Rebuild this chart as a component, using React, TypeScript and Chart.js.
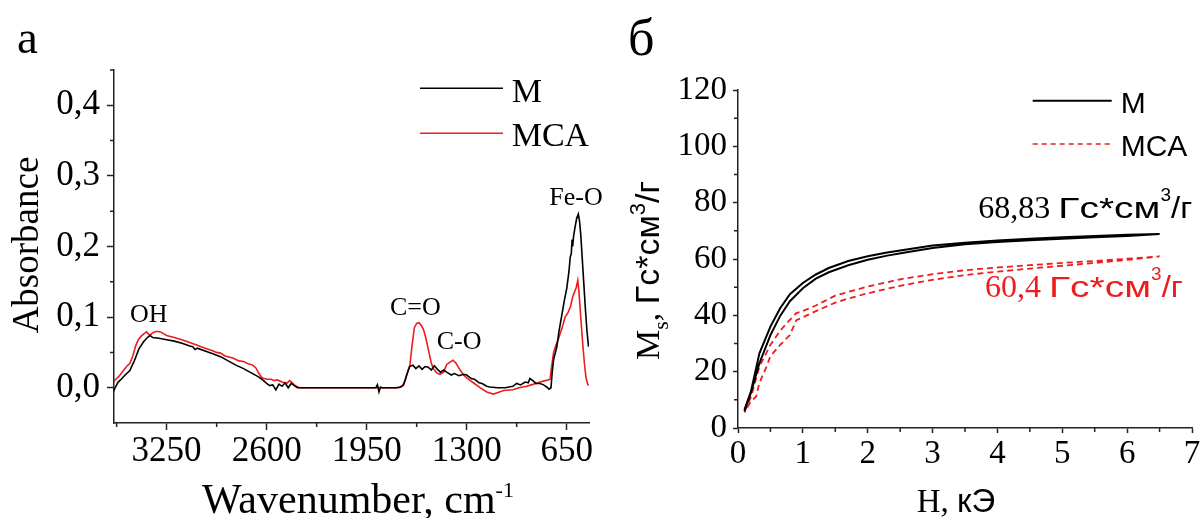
import React, { useEffect, useRef } from 'react';
import { Chart, registerables } from 'chart.js';

Chart.register(...registerables);

const SERIF = '"Liberation Serif", "Times New Roman", serif';
const SANS = '"Liberation Sans", Arial, sans-serif';
const AXIS = '#222';
const RED = '#ee1c1c';

// ---------- Panel a: IR spectra ----------
const wavenumberM = [
  3597, 3580, 3565, 3545, 3520, 3490, 3460, 3430, 3400, 3375, 3358, 3340, 3300, 3250, 3200, 3150,
  3100, 3080, 3065, 3050, 3000, 2950, 2900, 2850, 2800, 2750, 2700, 2650, 2620, 2600, 2580, 2560,
  2540, 2520, 2500, 2480, 2460, 2440, 2420, 2400, 2380, 2100, 1890, 1880, 1870, 1860, 1850, 1760,
  1730, 1710, 1690, 1670, 1650, 1630, 1610, 1590, 1570, 1550, 1530, 1510, 1490, 1470, 1450, 1430,
  1400, 1380, 1350, 1320, 1300, 1270, 1250, 1220, 1200, 1170, 1150, 1100, 1050, 1000, 975, 950,
  920, 900, 889, 870, 850, 823, 800, 780, 765, 752, 745, 735, 714, 700, 680, 664,
  650, 635, 627, 620, 615, 611, 605, 595, 585, 574, 566, 558, 548, 538, 528, 518, 508,
];
const absorbanceM = [
  -0.006, 0.002, 0.008, 0.012, 0.018, 0.024, 0.038, 0.055, 0.065, 0.071, 0.074, 0.071, 0.07, 0.068, 0.066, 0.063,
  0.059, 0.058, 0.054, 0.056, 0.052, 0.048, 0.044, 0.038, 0.032, 0.027, 0.021, 0.015, 0.01, 0.006, 0.003, 0.004,
  -0.003, 0.005, 0.002, 0.007, 0.0, 0.006, 0.003, 0.0, 0.0, 0.0, 0.0, 0.004, -0.006, 0.001, 0.0, 0.0,
  0.001, 0.004, 0.018, 0.03, 0.032, 0.027, 0.031, 0.026, 0.03, 0.029, 0.025, 0.031, 0.026, 0.022, 0.025, 0.022,
  0.018, 0.02, 0.017, 0.019, 0.018, 0.013, 0.012, 0.007, 0.006, 0.002, 0.001, 0.0, 0.0, 0.002, 0.006, 0.004,
  0.008, 0.007, 0.013, 0.01, 0.006, 0.006, 0.004, 0.001, -0.002, 0.0, 0.02, 0.04, 0.058, 0.08, 0.105, 0.125,
  0.14, 0.165, 0.185, 0.19, 0.21, 0.2, 0.215, 0.228, 0.24, 0.246, 0.235, 0.215, 0.18, 0.145, 0.11, 0.08, 0.058,
];
const wavenumberMCA = [
  3597, 3580, 3560, 3540, 3510, 3488, 3470, 3450, 3434, 3415, 3400, 3380, 3360, 3340, 3315, 3290,
  3250, 3200, 3150, 3100, 3050, 3000, 2960, 2925, 2900, 2870, 2820, 2780, 2750, 2720, 2690, 2670,
  2650, 2630, 2600, 2570, 2550, 2530, 2500, 2470, 2450, 2420, 2400, 2380, 2100, 1740, 1720, 1700,
  1680, 1669, 1655, 1640, 1625, 1610, 1595, 1580, 1565, 1545, 1530, 1517, 1495, 1473, 1450, 1430,
  1410, 1390, 1370, 1343, 1320, 1300, 1257, 1213, 1170, 1127, 1100, 1060, 1000, 960, 910, 880,
  850, 823, 790, 770, 758, 748, 735, 720, 702, 680, 660, 640, 625, 612, 600, 588,
  578, 570, 562, 552, 543, 535, 525, 515, 508,
];
const absorbanceMCA = [
  0.008, 0.012, 0.016, 0.022, 0.03, 0.035, 0.045, 0.06, 0.068, 0.073, 0.076, 0.079, 0.074, 0.078, 0.08, 0.079,
  0.074, 0.071, 0.068, 0.064, 0.06, 0.056, 0.053, 0.05, 0.049, 0.045, 0.042, 0.038, 0.037, 0.034, 0.032, 0.028,
  0.02, 0.014, 0.012, 0.012, 0.01, 0.011, 0.008, 0.006, 0.01, 0.004, 0.001, 0.0, 0.0, 0.0, 0.002, 0.01,
  0.025, 0.032, 0.06, 0.085, 0.091, 0.092, 0.088, 0.082, 0.07, 0.05, 0.035, 0.027, 0.021, 0.019, 0.022, 0.033,
  0.036, 0.039, 0.035, 0.025, 0.018, 0.014, 0.007, 0.0, -0.006, -0.009, -0.007, -0.004, -0.003, 0.0, 0.002, 0.004,
  0.006, 0.008, 0.01, 0.011, 0.012, 0.03, 0.05, 0.06, 0.07, 0.085, 0.1, 0.107, 0.115, 0.128, 0.135, 0.142,
  0.152, 0.135, 0.11, 0.08, 0.055, 0.035, 0.015, 0.006, 0.003,
];
const irXTicks = [650, 1300, 1950, 2600, 3250];
const irXMinor = [3575, 2925, 2275, 1625, 975];
const irYTicks = [0, 0.1, 0.2, 0.3, 0.4];
const irYMinor = [0.05, 0.15, 0.25, 0.35, 0.45];

// ---------- Panel б: magnetization ----------
const fieldM = [
  0.1, 0.2, 0.33, 0.5, 0.65, 0.8, 1.0, 1.2, 1.4, 1.7, 2.0, 2.3, 2.6, 3.0, 3.5, 4.0, 4.5, 5.0, 5.5, 6.0, 6.5,
  6.0, 5.5, 5.0, 4.5, 4.0, 3.5, 3.0, 2.6, 2.3, 2.0, 1.7, 1.4, 1.2, 1.0, 0.8, 0.65, 0.5, 0.33, 0.2, 0.1,
];
const magnetM = [
  6.5, 13, 26.5, 36, 42.5, 47.5, 51.5, 54.5, 56.8, 59.3, 61.0, 62.3, 63.4, 64.8, 65.8, 66.6, 67.2, 67.7, 68.2, 68.6, 68.9,
  68.2, 67.7, 67.2, 66.7, 66.0, 65.2, 63.9, 62.4, 61.2, 59.7, 57.8, 55.3, 53.0, 49.6, 45.0, 39.8, 33.0, 23.0, 12.5, 6.0,
];
const fieldMCA = [
  0.1, 0.2, 0.33, 0.5, 0.65, 0.75, 0.9, 1.0, 1.2, 1.5, 1.7, 2.0, 2.5, 3.0, 3.5, 4.0, 4.5, 5.0, 5.5, 6.0, 6.5,
  6.0, 5.5, 5.0, 4.5, 4.0, 3.5, 3.0, 2.5, 2.0, 1.7, 1.5, 1.2, 1.0, 0.9, 0.8, 0.65, 0.5, 0.44, 0.33, 0.28, 0.2, 0.1,
];
const magnetMCA = [
  5.9, 11, 21.8, 29.5, 34.5, 37.2, 40.8, 41.5, 43.5, 47.0, 48.3, 50.2, 52.8, 54.6, 56.0, 57.0, 57.8, 58.6, 59.3, 60.1, 60.9,
  59.7, 58.6, 57.6, 56.6, 55.5, 54.3, 52.6, 50.5, 47.8, 46.0, 44.5, 41.5, 39.3, 38.3, 33.0, 29.5, 25.5, 21.8, 16.0, 11.2, 9.5, 5.5,
];
const magXTicks = [0, 1, 2, 3, 4, 5, 6, 7];
const magXMinor = [0.5, 1.5, 2.5, 3.5, 4.5, 5.5, 6.5];
const magYTicks = [0, 20, 40, 60, 80, 100, 120];
const magYMinor = [10, 30, 50, 70, 90, 110];

// ---------- helpers ----------
const f = (size: number, fam: string) => `${size}px ${fam}`;
type Seg = { t: string; f: string; dy?: number; sx?: number };

function drawSegs(ctx: CanvasRenderingContext2D, segs: Seg[], x: number, y: number, color: string) {
  ctx.fillStyle = color;
  ctx.textAlign = 'left';
  ctx.textBaseline = 'alphabetic';
  let cx = x;
  for (const s of segs) {
    const sx = s.sx || 1;
    ctx.font = s.f;
    ctx.save();
    ctx.translate(cx, y + (s.dy || 0));
    ctx.scale(sx, 1);
    ctx.fillText(s.t, 0, 0);
    ctx.restore();
    cx += ctx.measureText(s.t).width * sx;
  }
  return cx - x;
}
function segsWidth(ctx: CanvasRenderingContext2D, segs: Seg[]) {
  let w = 0;
  for (const s of segs) {
    ctx.font = s.f;
    w += ctx.measureText(s.t).width * (s.sx || 1);
  }
  return w;
}
function minorTicks(ctx: any, chart: any, xs: number[], ys: number[], len: number) {
  const { chartArea, scales } = chart;
  ctx.strokeStyle = AXIS;
  ctx.lineWidth = 1.5;
  ctx.beginPath();
  xs.forEach((v) => {
    const p = scales.x.getPixelForValue(v);
    ctx.moveTo(p, chartArea.bottom);
    ctx.lineTo(p, chartArea.bottom + len);
  });
  ys.forEach((v) => {
    const p = scales.y.getPixelForValue(v);
    ctx.moveTo(chartArea.left - len, p);
    ctx.lineTo(chartArea.left, p);
  });
  ctx.stroke();
}
function legendLine(ctx: any, x1: number, x2: number, y: number, color: string, width: number, dash: number[]) {
  ctx.save();
  ctx.strokeStyle = color;
  ctx.lineWidth = width;
  ctx.setLineDash(dash);
  ctx.beginPath();
  ctx.moveTo(x1, y);
  ctx.lineTo(x2, y);
  ctx.stroke();
  ctx.restore();
}

const irOverlay = {
  id: 'irOverlay',
  afterDraw(chart: any) {
    const ctx = chart.ctx as CanvasRenderingContext2D;
    ctx.save();
    minorTicks(ctx, chart, irXMinor, irYMinor, 4);
    drawSegs(ctx, [{ t: 'a', f: f(47, SERIF) }], 17, 53, '#000');
    // x title
    const xt: Seg[] = [{ t: 'Wavenumber, cm', f: f(42, SERIF) }, { t: '-1', f: f(22, SERIF), dy: -16 }];
    const w = segsWidth(ctx, xt);
    drawSegs(ctx, xt, 358 - w / 2, 513, '#000');
    // y title
    ctx.save();
    ctx.translate(38, 245);
    ctx.rotate(-Math.PI / 2);
    ctx.font = f(37, SERIF);
    ctx.fillStyle = '#000';
    ctx.textAlign = 'center';
    ctx.textBaseline = 'alphabetic';
    ctx.fillText('Absorbance', 0, 0);
    ctx.restore();
    // legend
    legendLine(ctx, 420, 503, 88.3, '#000', 1.6, []);
    drawSegs(ctx, [{ t: 'M', f: f(34, SERIF) }], 511.7, 101.7, '#000');
    legendLine(ctx, 420, 503, 133.3, RED, 1.6, []);
    drawSegs(ctx, [{ t: 'MCA', f: f(34, SERIF) }], 511.7, 146, '#000');
    // band labels
    const lf = f(26, SERIF);
    drawSegs(ctx, [{ t: 'OH', f: lf }], 130, 321.7, '#000');
    drawSegs(ctx, [{ t: 'C=O', f: lf }], 390, 315, '#000');
    drawSegs(ctx, [{ t: 'C-O', f: lf }], 436.7, 349.3, '#000');
    drawSegs(ctx, [{ t: 'Fe-O', f: lf }], 549.3, 205, '#000');
    ctx.restore();
  },
};

function msLabel(num: string): Seg[] {
  return [
    { t: num + ' ', f: f(32, SERIF) },
    { t: 'Гс*см', f: f(30, SANS), sx: 1.3 },
    { t: '3', f: f(19, SANS), dy: -17 },
    { t: '/г', f: f(30, SANS), sx: 1.1 },
  ];
}

const magOverlay = {
  id: 'magOverlay',
  afterDraw(chart: any) {
    const ctx = chart.ctx as CanvasRenderingContext2D;
    ctx.save();
    minorTicks(ctx, chart, magXMinor, magYMinor, 4);
    drawSegs(ctx, [{ t: 'б', f: f(52, SERIF) }], 28, 55, '#000');
    // x title
    drawSegs(ctx, [{ t: 'H, ', f: f(33, SERIF) }, { t: 'кЭ', f: f(33, SANS) }], 316.7, 511.7, '#000');
    // y title
    ctx.save();
    ctx.translate(59, 360);
    ctx.rotate(-Math.PI / 2);
    drawSegs(
      ctx,
      [
        { t: 'M', f: f(34, SERIF) },
        { t: 's', f: f(22, SERIF), dy: 9 },
        { t: ', ', f: f(34, SERIF) },
        { t: 'Гс*см', f: f(34, SANS) },
        { t: '3', f: f(22, SANS), dy: -14 },
        { t: '/г', f: f(34, SANS) },
      ],
      0,
      0,
      '#000'
    );
    ctx.restore();
    // legend
    legendLine(ctx, 432.7, 511.7, 100.7, '#000', 2, []);
    drawSegs(ctx, [{ t: 'M', f: f(30, SANS) }], 520.7, 113.3, '#000');
    legendLine(ctx, 432.7, 511.7, 144, RED, 1.6, [5, 4]);
    drawSegs(ctx, [{ t: 'MCA', f: f(30, SANS) }], 520.7, 156, '#000');
    // saturation labels
    drawSegs(ctx, msLabel('68,83'), 378.3, 218.3, '#000');
    drawSegs(ctx, msLabel('60,4'), 385, 297, RED);
    ctx.restore();
  },
};

function axisCommon(tickLen: number) {
  return {
    grid: { display: true, drawOnChartArea: false, drawTicks: true, tickLength: tickLen, tickColor: AXIS, tickWidth: 1.5 },
    border: { display: true, color: AXIS, width: 1.5 },
  };
}

function IRChart() {
  const ref = useRef<HTMLCanvasElement | null>(null);
  useEffect(() => {
    if (!ref.current) return;
    const chart = new Chart(ref.current, {
      type: 'scatter',
      data: {
        datasets: [
          {
            label: 'M',
            data: wavenumberM.map((x, i) => ({ x, y: absorbanceM[i] })),
            showLine: true,
            borderColor: '#000',
            borderWidth: 1.6,
            pointRadius: 0,
            fill: false,
          },
          {
            label: 'MCA',
            data: wavenumberMCA.map((x, i) => ({ x, y: absorbanceMCA[i] })),
            showLine: true,
            borderColor: RED,
            borderWidth: 1.6,
            pointRadius: 0,
            fill: false,
          },
        ],
      },
      options: {
        responsive: false,
        animation: false,
        devicePixelRatio: 1,
        layout: { padding: { left: 0, top: 70, right: 31, bottom: 0 } },
        plugins: { legend: { display: false }, tooltip: { enabled: false } },
        scales: {
          x: {
            type: 'linear',
            reverse: true,
            min: 505,
            max: 3592,
            ...axisCommon(7),
            afterBuildTicks: (s: any) => {
              s.ticks = irXTicks.map((v) => ({ value: v }));
            },
            afterFit: (s: any) => {
              s.height = 95;
              s.paddingLeft = 0;
              s.paddingRight = 0;
            },
            ticks: {
              autoSkip: false,
              maxRotation: 0,
              padding: 1,
              color: '#000',
              font: { family: SERIF, size: 35 },
              callback: (v: any) => String(v),
            },
          },
          y: {
            type: 'linear',
            min: -0.05,
            max: 0.45,
            ...axisCommon(7),
            afterBuildTicks: (s: any) => {
              s.ticks = irYTicks.map((v) => ({ value: v }));
            },
            afterFit: (s: any) => {
              s.width = 114;
              s.paddingTop = 0;
              s.paddingBottom = 0;
            },
            ticks: {
              autoSkip: false,
              padding: 7,
              color: '#000',
              font: { family: SERIF, size: 35 },
              callback: (v: any) => Number(v).toFixed(1).replace('.', ','),
            },
          },
        },
      } as any,
      plugins: [irOverlay],
    });
    return () => chart.destroy();
  }, []);
  return <canvas ref={ref} width={620} height={518} style={{ position: 'absolute', left: 0, top: 0 }} />;
}

function MagChart() {
  const ref = useRef<HTMLCanvasElement | null>(null);
  useEffect(() => {
    if (!ref.current) return;
    const chart = new Chart(ref.current, {
      type: 'scatter',
      data: {
        datasets: [
          {
            label: 'M',
            data: fieldM.map((x, i) => ({ x, y: magnetM[i] })),
            showLine: true,
            borderColor: '#000',
            borderWidth: 2,
            pointRadius: 0,
            fill: false,
          },
          {
            label: 'MCA',
            data: fieldMCA.map((x, i) => ({ x, y: magnetMCA[i] })),
            showLine: true,
            borderColor: RED,
            borderWidth: 1.8,
            borderDash: [6, 4],
            pointRadius: 0,
            fill: false,
          },
        ],
      },
      options: {
        responsive: false,
        animation: false,
        devicePixelRatio: 1,
        layout: { padding: { left: 0, top: 90, right: 8, bottom: 0 } },
        plugins: { legend: { display: false }, tooltip: { enabled: false } },
        scales: {
          x: {
            type: 'linear',
            min: 0,
            max: 7,
            ...axisCommon(5),
            afterBuildTicks: (s: any) => {
              s.ticks = magXTicks.map((v) => ({ value: v }));
            },
            afterFit: (s: any) => {
              s.height = 90;
              s.paddingLeft = 0;
              s.paddingRight = 0;
            },
            ticks: {
              autoSkip: false,
              maxRotation: 0,
              padding: 2,
              color: '#000',
              font: { family: SERIF, size: 33 },
              callback: (v: any) => String(v),
            },
          },
          y: {
            type: 'linear',
            min: 0,
            max: 120,
            ...axisCommon(5),
            afterBuildTicks: (s: any) => {
              s.ticks = magYTicks.map((v) => ({ value: v }));
            },
            afterFit: (s: any) => {
              s.width = 138;
              s.paddingTop = 0;
              s.paddingBottom = 0;
            },
            ticks: {
              autoSkip: false,
              padding: 6,
              color: '#000',
              font: { family: SERIF, size: 33 },
              callback: (v: any) => String(v),
            },
          },
        },
      } as any,
      plugins: [magOverlay],
    });
    return () => chart.destroy();
  }, []);
  return <canvas ref={ref} width={600} height={518} style={{ position: 'absolute', left: 600, top: 0 }} />;
}

export default function App() {
  return (
    <div style={{ position: 'fixed', left: 0, top: 0, width: 1200, height: 518, background: '#fff', overflow: 'hidden' }}>
      <IRChart />
      <MagChart />
    </div>
  );
}
